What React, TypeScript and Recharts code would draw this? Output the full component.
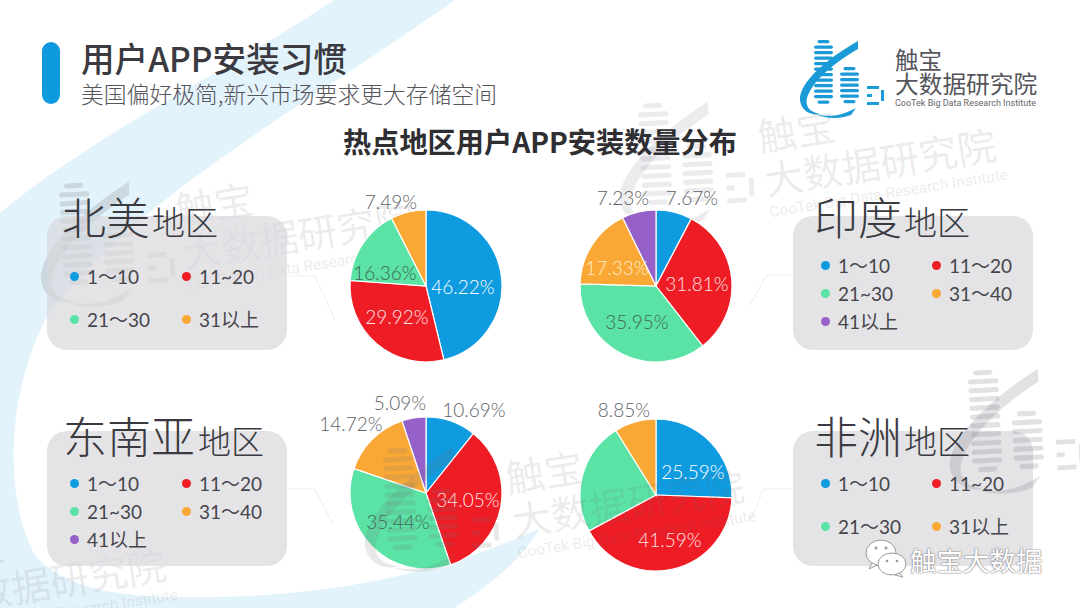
import { Cell, Pie, PieChart } from 'recharts';

const tiersNorthAmerica = ['1～10', '11~20', '21～30', '31以上'];
const tiersSeAsia = ['1～10', '11～20', '21~30', '31～40', '41以上'];
const tiersIndia = ['1～10', '11～20', '21~30', '31～40', '41以上'];
const tiersAfrica = ['1～10', '11~20', '21～30', '31以上'];

const northAmericaValues = [46.22, 29.92, 16.36, 7.49];
const indiaValues = [7.67, 31.81, 35.95, 17.33, 7.23];
const seAsiaValues = [10.69, 34.05, 35.44, 14.72, 5.09];
// the green slice has no printed label in the picture, its value is what is left
const africaValues = [25.59, 41.59, 23.97, 8.85];

const COLORS = ['#0f9be0', '#ee1c25', '#5be3a5', '#f9a836', '#9560c8'];
const COLORS_4 = ['#0f9be0', '#ee1c25', '#5be3a5', '#f9a836'];

const CJK = '"Noto Sans CJK SC", sans-serif';
const NUM = 'Lato, "Noto Sans CJK SC", sans-serif';
const INK = '#3a3a40';

type LabelPos = { dx: number; dy: number; fill: string; hidden?: boolean };

const WHITE = '#ffffff';
const GREY = '#5f5f66';
const DARK_GREEN = '#3f6656';

const regions = [
  {
    name: '北美', cx: 426, cy: 286, values: northAmericaValues, colors: COLORS_4, tiers: tiersNorthAmerica,
    labels: [
      { dx: 37, dy: 0, fill: WHITE }, { dx: -29, dy: 30, fill: '#ffe3e3' },
      { dx: -41, dy: -14, fill: DARK_GREEN }, { dx: -35, dy: -85, fill: GREY },
    ] as LabelPos[],
    panel: { x: 47, y: 216, w: 240, h: 134 },
    title: { x: 62, y: 216, sub: 152 },
    legendX: [74, 186], legendY: [276, 276, 319, 319],
  },
  {
    name: '印度', cx: 656, cy: 286, values: indiaValues, colors: COLORS, tiers: tiersIndia,
    labels: [
      { dx: 36, dy: -89, fill: GREY }, { dx: 41, dy: -3, fill: '#ffe3e3' },
      { dx: -19, dy: 35, fill: DARK_GREEN }, { dx: -39, dy: -19, fill: '#ffeccc' },
      { dx: -33, dy: -89, fill: GREY },
    ] as LabelPos[],
    panel: { x: 793, y: 216, w: 240, h: 134 },
    title: { x: 814, y: 216, sub: 904 },
    legendX: [825, 936], legendY: [265, 265, 293, 293, 321],
  },
  {
    name: '东南亚', cx: 426, cy: 493, values: seAsiaValues, colors: COLORS, tiers: tiersSeAsia,
    labels: [
      { dx: 48, dy: -84, fill: GREY }, { dx: 42, dy: 6, fill: '#ffe3e3' },
      { dx: -28, dy: 28, fill: DARK_GREEN }, { dx: -75, dy: -70, fill: GREY },
      { dx: -26, dy: -91, fill: GREY },
    ] as LabelPos[],
    panel: { x: 47, y: 431, w: 240, h: 135 },
    title: { x: 63, y: 435, sub: 198 },
    legendX: [74, 186], legendY: [483, 483, 511, 511, 539],
  },
  {
    name: '非洲', cx: 656, cy: 495, values: africaValues, colors: COLORS_4, tiers: tiersAfrica,
    labels: [
      { dx: 37, dy: -24, fill: WHITE }, { dx: 14, dy: 44, fill: '#ffe3e3' },
      { dx: 0, dy: 0, fill: DARK_GREEN, hidden: true }, { dx: -32, dy: -86, fill: GREY },
    ] as LabelPos[],
    panel: { x: 793, y: 431, w: 240, h: 135 },
    title: { x: 814, y: 435, sub: 904 },
    legendX: [825, 936], legendY: [483, 483, 526, 526],
  },
];

function Txt({ x, y, size, children, color = INK, weight = 400, family = CJK, style }: any) {
  return (
    <span
      style={{
        position: 'absolute', left: x, top: y, transform: 'translateY(-50%)', fontSize: size, color,
        fontWeight: weight, fontFamily: family, whiteSpace: 'nowrap', lineHeight: 1, ...style,
      }}
    >
      {children}
    </span>
  );
}

function RegionPie({ r }: { r: (typeof regions)[number] }) {
  const w = 260;
  const h = 210;
  const data = r.values.map((value, i) => ({ name: r.tiers[i], value }));
  return (
    <div style={{ position: 'absolute', left: r.cx - w / 2, top: r.cy - h / 2 }}>
      <PieChart width={w} height={h} margin={{ top: 0, right: 0, bottom: 0, left: 0 }}>
        <Pie
          data={data}
          dataKey="value"
          cx={w / 2}
          cy={h / 2}
          outerRadius={76}
          startAngle={90}
          endAngle={-270}
          stroke="#fff"
          strokeWidth={1.2}
          isAnimationActive={false}
          labelLine={false}
          label={(p: any) => {
            const pos = r.labels[p.index];
            if (pos.hidden) return null;
            return (
              <text
                x={w / 2 + pos.dx}
                y={h / 2 + pos.dy}
                textAnchor="middle"
                dominantBaseline="central"
                fill={pos.fill}
                fontFamily="Lato"
                fontWeight={300}
                fontSize={19}
              >
                {r.values[p.index].toFixed(2)}%
              </text>
            );
          }}
        >
          {data.map((d, i) => (
            <Cell key={d.name} fill={r.colors[i]} />
          ))}
        </Pie>
      </PieChart>
    </div>
  );
}

function RegionLegend({ r }: { r: (typeof regions)[number] }) {
  return (
    <>
      {r.tiers.map((t, i) => {
        const x = r.legendX[i % 2];
        const y = r.legendY[i];
        return (
          <div key={t}>
            <div
              style={{
                position: 'absolute', left: x - 4.5, top: y - 4.5, width: 9, height: 9,
                borderRadius: '50%', background: r.colors[i],
              }}
            />
            <Txt x={x + 13} y={y} size={19} family={NUM} color="#45454b">{t}</Txt>
          </div>
        );
      })}
    </>
  );
}

const STRIPES_A = [0, 1, 2, 3, 4, 5, 6, 7, 8, 9, 10, 11];
const STRIPES_B = [0, 1, 2, 3, 4, 5, 6];

function LogoMark({ x, y, scale, color, rotate = 0 }: any) {
  const inset = (i: number, last: number) => (i === 0 || i === last ? 3.5 : 0);
  return (
    <g transform={`translate(${x} ${y}) rotate(${rotate}) scale(${scale})`} fill={color}>
      {STRIPES_A.map((i) => (
        <rect key={i} x={14 + inset(i, 11)} y={i * 5.5} width={19 - 2 * inset(i, 11)} height={3.2} rx={1.6} />
      ))}
      {STRIPES_B.map((i) => (
        <rect key={i} x={40 + inset(i, 6)} y={27 + i * 5.5} width={19 - 2 * inset(i, 6)} height={3.2} rx={1.6} />
      ))}
      <path d="M58 1 L58 9 C 32 24 12 42 7 58 C 5 66 9 72 20 74 C 10 76 1 70 0 60 C -1 42 28 18 58 1 Z" />
      <path d="M16 74 C 30 78 42 75 52 70 L 56 68 L 51 75 C 40 79 26 79 16 74 Z" />
      <rect x={67} y={46} width={12} height={3} />
      <rect x={67} y={54} width={5} height={3} />
      <rect x={67} y={62} width={12} height={3} />
      <rect x={81} y={50} width={3} height={11} />
    </g>
  );
}

function Watermark({ x, y, fill = 'rgba(110,110,120,0.14)' }: any) {
  return (
    <g transform={`translate(${x} ${y}) rotate(-9)`} fill={fill} fontFamily={CJK}>
      <text x={0} y={0} fontSize={39}>触宝</text>
      <text x={0} y={44} fontSize={39}>大数据研究院</text>
      <text x={0} y={66} fontSize={15.4} fontFamily="Roboto">CooTek Big Data Research Institute</text>
    </g>
  );
}

function Lines() {
  return (
    <svg width={1080} height={608} style={{ position: 'absolute', left: 0, top: 0 }}>
      <g fill="none" stroke="#ededf0" strokeWidth={1}>
        <polyline points="288,276 315,276 335,320" />
        <polyline points="288,489 315,489 333,524" />
        <polyline points="793,275 767,275 750,305" />
        <polyline points="792,489 764,489 750,520" />
      </g>
    </svg>
  );
}

export default function App() {
  return (
    <div
      style={{
        position: 'absolute', left: 0, top: 0, width: 1080, height: 608, overflow: 'hidden', background: '#fff',
      }}
    >
      {/* swoosh and the watermarks that sit behind the panels */}
      <svg width={1080} height={608} style={{ position: 'absolute', left: 0, top: 0 }}>
        <path
          d="M334 0 L455 0 C 300 110 130 200 45 320 C 5 400 5 500 35 555 C 60 585 110 596 170 597 C 300 600 430 580 540 528 C 520 565 480 590 455 608 L 0 608 L 0 213 C 100 130 230 70 334 0 Z"
          fill="#e3f3fb"
        />
        <LogoMark x={36} y={185} scale={1.6} color="rgba(110,110,120,0.2)" rotate={-3} />
        <Watermark x={178} y={225} />
        <LogoMark x={615} y={105} scale={1.6} color="rgba(110,110,120,0.13)" rotate={-3} />
        <Watermark x={760} y={152} />
        <Watermark x={-70} y={572} />
      </svg>
      <Lines />

      {regions.map((r) => (
        <div
          key={r.name}
          style={{
            position: 'absolute', left: r.panel.x, top: r.panel.y, width: r.panel.w, height: r.panel.h,
            borderRadius: 20, background: 'rgba(215,215,220,0.68)',
          }}
        />
      ))}

      {regions.map((r) => <RegionPie key={r.name} r={r} />)}

      {/* these watermarks lie on top of the bottom pies */}
      <svg width={1080} height={608} style={{ position: 'absolute', left: 0, top: 0 }}>
        <LogoMark x={360} y={450} scale={1.6} color="rgba(110,110,120,0.16)" rotate={-3} />
        <Watermark x={508} y={493} />
        <LogoMark x={945} y={372} scale={1.6} color="rgba(110,110,120,0.2)" rotate={-3} />
      </svg>

      {/* header */}
      <div
        style={{
          position: 'absolute', left: 42, top: 42, width: 18, height: 62, borderRadius: 9, background: '#0f9ae0',
        }}
      />
      <Txt x={81} y={58} size={33.6} weight={500}>用户APP安装习惯</Txt>
      <Txt x={81} y={94} size={22.8} weight={300} color="#55555b">美国偏好极简,新兴市场要求更大存储空间</Txt>
      <Txt x={343} y={141} size={28.2} weight={700} color="#2f2f33">热点地区用户APP安装数量分布</Txt>

      <svg width={1080} height={608} style={{ position: 'absolute', left: 0, top: 0 }}>
        <LogoMark x={800} y={40} scale={1} color="#1a9ad6" />
      </svg>
      <Txt x={895} y={60} size={23.5} color="#55555b">触宝</Txt>
      <Txt x={895} y={84} size={23.7} color="#55555b">大数据研究院</Txt>
      <Txt x={895} y={103} size={9} color="#66666c" family="Roboto">CooTek Big Data Research Institute</Txt>

      {/* region titles and legends */}
      {regions.map((r) => (
        <div key={r.name}>
          <Txt x={r.title.x} y={r.title.y} size={44} weight={300}>{r.name}</Txt>
          <Txt x={r.title.sub} y={r.title.y + 5} size={33} weight={300}>地区</Txt>
          <RegionLegend r={r} />
        </div>
      ))}

      {/* wechat stamp */}
      <svg width={1080} height={608} style={{ position: 'absolute', left: 0, top: 0 }}>
        <g fill="#fff" stroke="#9a9a9f" strokeWidth={1}>
          <ellipse cx={881} cy={553} rx={15} ry={13} />
          <path d="M872 563 L869 569 L877 565 Z" />
          <ellipse cx={892} cy={564} rx={14} ry={11} />
          <path d="M899 573 L903 577 L895 575 Z" />
        </g>
        <g fill="#9a9a9f">
          <circle cx={876} cy={548} r={1.5} /><circle cx={886} cy={548} r={1.5} />
          <circle cx={887} cy={561} r={1.3} /><circle cx={897} cy={561} r={1.3} />
        </g>
      </svg>
      <Txt x={910} y={560} size={26.5} color="#fff" style={{ textShadow: '0 0 2px #77777c, 0 0 1px #77777c' }}>
        触宝大数据
      </Txt>
    </div>
  );
}
